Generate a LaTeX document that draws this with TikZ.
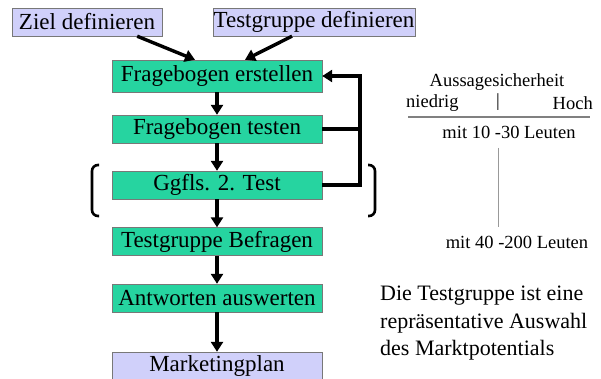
\documentclass[tikz,border=0pt]{standalone}
\usepackage{fontspec}
\setmainfont{Liberation Serif}
\usetikzlibrary{arrows.meta}

\definecolor{boxgreen}{RGB}{38,212,160}
\definecolor{boxlila}{RGB}{208,208,250}
\definecolor{rimgray}{RGB}{120,120,120}

\tikzset{
    stepbox/.style={draw=rimgray, fill=boxgreen, minimum width=210pt, minimum height=28pt,
        inner sep=0pt, font=\fontsize{23}{26}\selectfont},
    endbox/.style={draw=rimgray, fill=boxlila, minimum height=28pt,
        inner sep=0pt, font=\fontsize{23}{26}\selectfont},
    arr/.style={line width=3.4pt, -{Triangle[length=10pt,width=12pt]}},
    note/.style={font=\fontsize{18.5}{21}\selectfont, inner sep=0pt}
}

\begin{document}
\begin{tikzpicture}[x=1pt, y=-1pt]
    % picture area
    \useasboundingbox (0,0) rectangle (601,379);

    % start boxes
    \node[endbox, minimum width=150pt] (ziel) at (87,22) {Ziel definieren};
    \node[endbox, minimum width=202pt] (gruppe) at (314,22) {Testgruppe definieren};

    % steps
    \node[stepbox, minimum height=32pt] (erstellen) at (217,76) {Fragebogen erstellen};
    \node[stepbox] (testen) at (217,129) {Fragebogen testen};
    \node[stepbox] (zweiter) at (217,185) {Ggfls. 2. Test};
    \node[stepbox] (befragen) at (217,241.5) {Testgruppe Befragen};
    \node[stepbox] (auswerten) at (217,298) {Antworten auswerten};
    \node[endbox, minimum width=210pt] (plan) at (217,366) {Marketingplan};

    % arrows into the first step
    \draw[arr] ([xshift=-25pt]ziel.south east) -- ([xshift=-22pt]erstellen.north);
    \draw[arr] ([xshift=-22pt]gruppe.south) -- ([xshift=28pt]erstellen.north);

    % main flow
    \draw[arr] (erstellen) -- (testen);
    \draw[arr] (testen) -- (zweiter);
    \draw[arr] (zweiter) -- (befragen);
    \draw[arr] (befragen) -- (auswerten);
    \draw[arr] (auswerten) -- (plan);

    % feedback loop
    \coordinate (back) at (360,76);
    \draw[line width=3.4pt] (testen.east) -- (testen.east -| back);
    \draw[arr] (zweiter.east) -| (back) -- (erstellen.east);

    % brackets round the second test
    \draw[line width=2.6pt, rounded corners=6pt] (99,165) -- (92,165) -- (92,216) -- (99,216);
    \draw[line width=2.6pt, rounded corners=6pt] (368,165) -- (375,165) -- (375,216) -- (368,216);

    % scale on the right
    \node[note] (aussage) at (497,82) {Aussagesicherheit};
    \node[note, anchor=west] (niedrig) at (406,103) {niedrig};
    \node[note] (mitte) at (498,102) {|};
    \node[note, anchor=east] (hoch) at (593,103) {Hoch};
    \draw[gray, line width=1.2pt] (408,117) -- (590,117);
    \node[note] (wenig) at (509,132) {mit 10 -30 Leuten};
    \node[note] (viele) at (517,242) {mit 40 -200 Leuten};
    \draw[gray!80, line width=1pt] (498,148) -- (498,227);

    % remark
    \node[anchor=north west, align=left, inner sep=0pt,
        font=\fontsize{22}{27.5}\selectfont] (auswahl) at (380,286)
        {Die Testgruppe ist eine\\repräsentative Auswahl\\des Marktpotentials};
\end{tikzpicture}
\end{document}
